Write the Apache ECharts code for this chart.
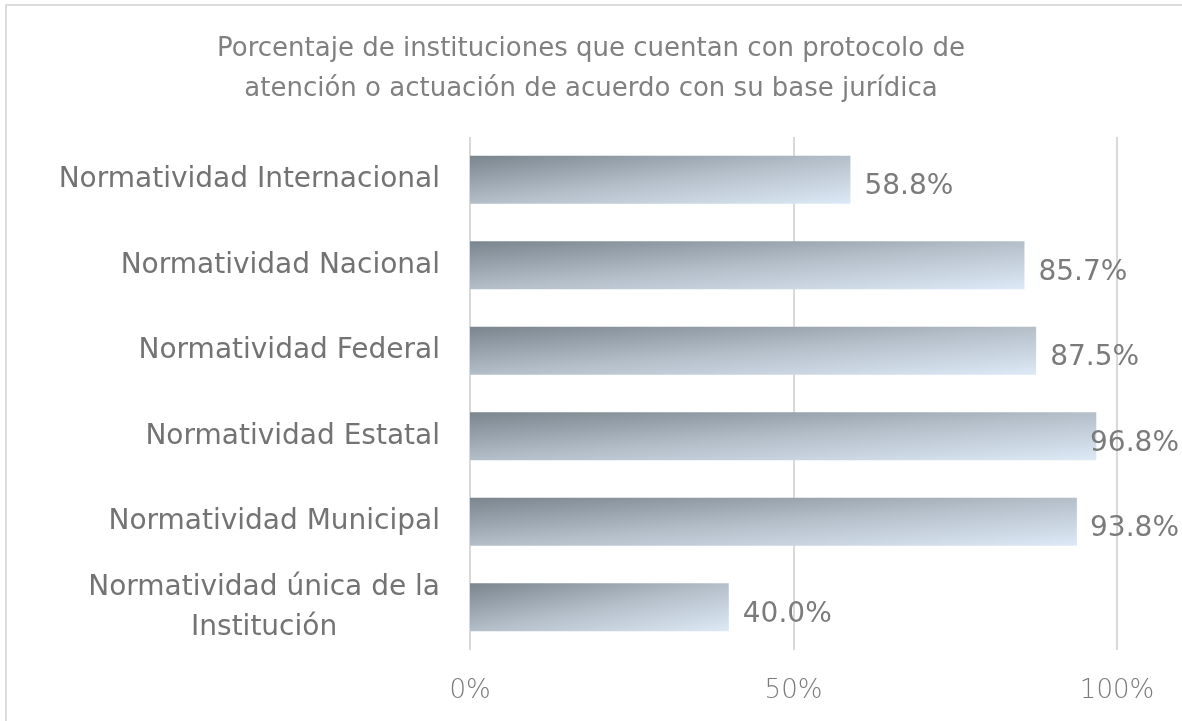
<!DOCTYPE html>
<html>
<head>
<meta charset="utf-8">
<script src="https://cdn.jsdelivr.net/npm/echarts@6/dist/echarts.min.js"></script>
<style>
  html, body { margin: 0; padding: 0; background: #fff; }
  #chart { width: 1182px; height: 721px; }
</style>
</head>
<body>
<div id="chart"></div>
<script>
var titleText = 'Porcentaje de instituciones que cuentan con protocolo de\natención o actuación de acuerdo con su base jurídica';
var categories = [
  'Normatividad Internacional',
  'Normatividad Nacional',
  'Normatividad Federal',
  'Normatividad Estatal',
  'Normatividad Municipal',
  'Normatividad única de la\nInstitución'
];
var values = [58.8, 85.7, 87.5, 96.8, 93.8, 40.0];
var xTicks = [0, 50, 100];

var chart = echarts.init(document.getElementById('chart'));

// plot width / bar height in px, used to tilt each bar's gradient like Excel does
var plotW = 647, barH = 48;

function barGradient(params) {
  var w = Math.max(params.value / 100 * plotW, 1);
  var h = barH;
  var d = h * h + w * w;
  return new echarts.graphic.LinearGradient(0, 0, 2 * h * h / d, 2 * w * w / d, [
    { offset: 0, color: '#7b858e' },
    { offset: 0.5, color: '#b3bec9' },
    { offset: 1, color: '#dde9f6' }
  ]);
}

var option = {
  backgroundColor: '#ffffff',
  animation: false,
  graphic: [{
    type: 'rect',
    shape: { x: 6, y: 5, width: 1300, height: 900 },
    style: { fill: 'none', stroke: '#dcdcdc', lineWidth: 2 },
    silent: true
  }],
  title: {
    text: titleText,
    left: 'center',
    top: 24,
    textStyle: {
      fontFamily: 'DejaVu Sans',
      fontSize: 26,
      fontWeight: 'normal',
      color: '#808080',
      lineHeight: 40
    }
  },
  grid: {
    left: 470,
    right: 65,
    top: 137,
    bottom: 71
  },
  xAxis: {
    type: 'value',
    min: 0,
    max: 100,
    interval: 50,
    axisLine: { show: false },
    axisTick: { show: false },
    splitLine: { lineStyle: { color: '#d9d9d9', width: 2 } },
    axisLabel: {
      formatter: function (v) { return xTicks.indexOf(v) >= 0 ? v + '%' : ''; },
      margin: 28,
      fontFamily: 'DejaVu Sans',
      fontWeight: 200,
      fontSize: 26,
      color: '#7a7a7a'
    }
  },
  yAxis: {
    type: 'category',
    inverse: true,
    data: categories,
    axisLine: { show: false },
    axisTick: { show: false },
    axisLabel: {
      margin: 30,
      fontFamily: 'DejaVu Sans',
      fontSize: 28,
      color: '#737373',
      lineHeight: 40,
      formatter: function (v) {
        if (v.indexOf('\n') < 0) return v;
        return v.split('\n').map(function (l) { return '{c|' + l + '}'; }).join('\n');
      },
      rich: {
        c: {
          align: 'center',
          fontFamily: 'DejaVu Sans',
          fontSize: 28,
          color: '#737373',
          lineHeight: 40
        }
      }
    }
  },
  series: [{
    type: 'bar',
    data: values,
    barCategoryGap: '44%',
    itemStyle: {
      color: barGradient
    },
    label: {
      show: true,
      position: 'right',
      distance: 14,
      formatter: function (p) { return p.value.toFixed(1) + '%'; },
      fontFamily: 'DejaVu Sans',
      fontSize: 28,
      color: '#7b7b7b'
    },
    // keep labels inside the frame (they slide back over the bar end) and sit a bit low
    labelLayout: function (params) {
      var r = params.labelRect;
      return {
        x: Math.min(r.x, 1179 - r.width),
        y: r.y + r.height / 2 + 7,
        align: 'left',
        verticalAlign: 'middle'
      };
    }
  }]
};

chart.setOption(option);
</script>
</body>
</html>
